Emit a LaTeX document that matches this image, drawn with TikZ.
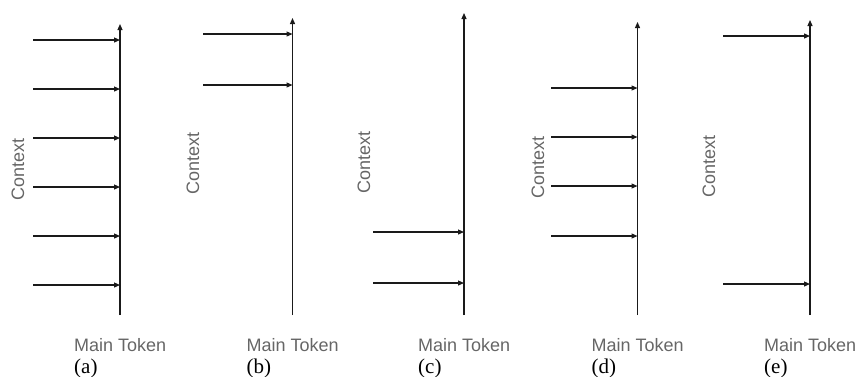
\documentclass[tikz,border=0pt]{standalone}
\usepackage{fontspec}
\setmainfont{Liberation Serif}
\setsansfont{Liberation Sans}
\usetikzlibrary{arrows.meta}
\definecolor{labelgray}{HTML}{666666}
\definecolor{axisink}{HTML}{1A1A1A}

% One attention panel:
% #1 id, #2 axis x, #3 axis top, #4 start x of context arrows,
% #5/#6 position of the "Context" label, #7 y values of the context arrows, #8 letter
\newcommand{\drawpanel}[8]{%
  \coordinate (#1-bot) at (#2,315);
  \coordinate (#1-top) at (#2,#3);
  \draw[axis] (#1-bot) -- (#1-top);
  \foreach \yy [count=\k] in {#7} {
    \coordinate (#1-src\k) at (#4,\yy);
    \coordinate (#1-dst\k) at (#2,\yy);
    \draw[feed] (#1-src\k) -- (#1-dst\k);
  }
  \node[ctxlabel] (#1-ctx) at (#5,#6) {Context};
  \node[toklabel] (#1-tok) at (#2-46,351) {Main Token};
  \node[sublabel] (#1-sub) at (#2-46,373) {(#8)};
}

\begin{document}
\begin{tikzpicture}[x=1pt,y=-1pt,
  axis/.style={draw=axisink, line width=1.2pt, -{Triangle[length=6pt,width=5pt]}},
  feed/.style={draw=axisink, line width=1.2pt, -{Triangle[length=6pt,width=5pt]}},
  ctxlabel/.style={rotate=90, inner sep=0pt, text=labelgray,
    font=\sffamily\fontsize{18}{18}\selectfont},
  toklabel/.style={anchor=base west, inner sep=0pt, text=labelgray,
    font=\sffamily\fontsize{18}{18}\selectfont},
  sublabel/.style={anchor=base west, inner sep=0pt, text=black,
    font=\rmfamily\fontsize{21}{21}\selectfont}]
\useasboundingbox (0,0) rectangle (858,376);

\drawpanel{a}{120}{24}{33}{18}{169}{40,89,138,187,236,285}{a}
\drawpanel{b}{292.5}{18}{203}{193}{163}{34,85}{b}
\drawpanel{c}{464}{13}{373}{364}{162}{232,283}{c}
\drawpanel{d}{637.5}{22}{551}{538}{167}{88,137,186,236}{d}
\drawpanel{e}{810}{20}{723}{709}{166}{36,284}{e}
\end{tikzpicture}
\end{document}
